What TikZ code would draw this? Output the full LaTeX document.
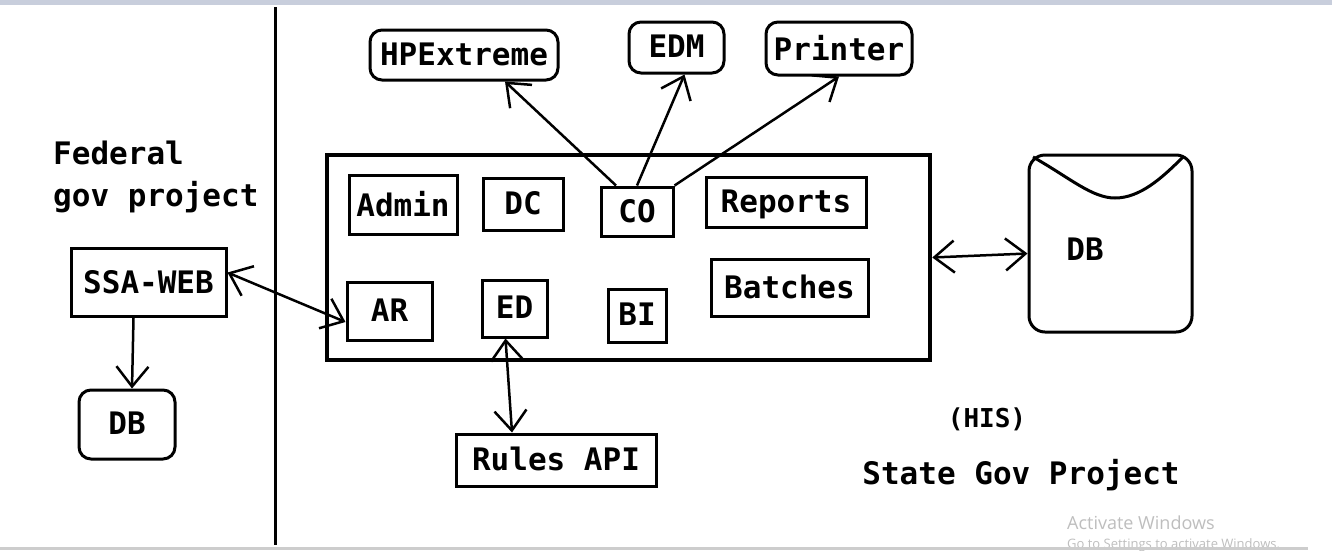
\documentclass[tikz,border=0pt]{standalone}
\usepackage{fontspec}
\setmonofont{DejaVu Sans Mono}
\newfontfamily\winfont{Open Sans}
\definecolor{BarGray}{RGB}{200,206,220}
\definecolor{StripGray}{RGB}{205,205,205}
\definecolor{WaterGray}{RGB}{190,190,190}
\usetikzlibrary{arrows.meta, positioning, calc}

\begin{document}
\begin{tikzpicture}[x=1pt, y=-1pt,
    >={Straight Barb[length=20pt,width=32pt]},
    txt/.style={font=\ttfamily\bfseries\fontsize{31}{42}\selectfont, inner sep=0pt},
    box/.style 2 args={txt, draw, line width=3pt, minimum width=#1, minimum height=#2, text depth=2pt},
    rbox/.style 2 args={box={#1}{#2}, rounded corners=12pt},
    conn/.style={line width=2.5pt}]
  \useasboundingbox (0,0) rectangle (1332,550);
  \fill[white] (0,0) rectangle (1332,550);
  \fill[BarGray] (0,0) rectangle (1332,5);

  \draw[line width=3pt] (275,7) -- (275,545);

  \node[txt, anchor=west, align=left] (fed) at (53,177) {Federal\\gov project};
  \node[box={155}{68}] (ssa) at (148.5,282.5) {SSA-WEB};
  \node[rbox={96}{69}] (dbl) at (127,424.5) {DB};

  \node[draw, line width=4.5pt, minimum width=603, minimum height=205] (main) at (628.5,257.5) {};
  \node[box={108}{59}] (admin) at (403,204.5) {Admin};
  \node[box={80}{52}] (dc) at (523,204) {DC};
  \node[box={72}{49}] (co) at (637,211.5) {CO};
  \node[box={160}{50}] (reports) at (786,202) {Reports};
  \node[box={85}{58}] (ar) at (389.5,311) {AR};
  \node[box={65}{57}] (ed) at (514.5,308.5) {ED};
  \node[box={58}{53}] (bi) at (637,315.5) {BI};
  \node[box={157}{57}] (batches) at (789.5,287.5) {Batches};

  \node[rbox={188}{50}] (hpx) at (464,55) {HPExtreme};
  \node[rbox={95}{51}] (edm) at (676.5,47.5) {EDM};
  \node[rbox={146}{53}] (printer) at (839,48.5) {Printer};
  \node[box={200}{52}] (rules) at (556,460) {Rules API};

  \node[draw, line width=3pt, rounded corners=16pt, minimum width=163, minimum height=177] (dbs) at (1110.5,243.5) {};
  \draw[line width=3pt] (1033,157) .. controls (1070,178) and (1092,198) .. (1115,198)
    .. controls (1140,198) and (1162,178) .. (1183,157);
  \node[txt] (dbslabel) at (1085,249) {DB};

  \node[txt, font=\ttfamily\bfseries\fontsize{26}{30}\selectfont] (his) at (987,419) {(HIS)};
  \node[txt] (state) at (1021,475) {State Gov Project};

  \draw[conn, ->] ([xshift=-15pt]ssa.south) -- ([xshift=5pt]dbl.north);
  \draw[conn, <->] ([yshift=10pt]ssa.east) -- ([yshift=-11pt]ar.west);
  \draw[conn, <->] ([xshift=-9pt]ed.south) -- ([xshift=-44pt]rules.north);
  \draw[conn, <->] (main.east) -- ([yshift=-10pt]dbs.west);
  \draw[conn, ->] ([xshift=-21pt]co.north) -- ([xshift=41pt]hpx.south);
  \draw[conn, ->] (co.north) -- ([xshift=8pt]edm.south);
  \draw[conn, ->] (co.north east) -- (printer.south);

  \node[anchor=west, text=WaterGray, font=\winfont\fontsize{18}{20}\selectfont, inner sep=0pt] (wm) at (1067,523) {Activate Windows};
  \node[anchor=west, text=WaterGray, font=\winfont\fontsize{13}{15}\selectfont, inner sep=0pt] (wmsub) at (1067,545) {Go to Settings to activate Windows.};
  \fill[StripGray] (0,547) rectangle (1308,550);
\end{tikzpicture}
\end{document}
